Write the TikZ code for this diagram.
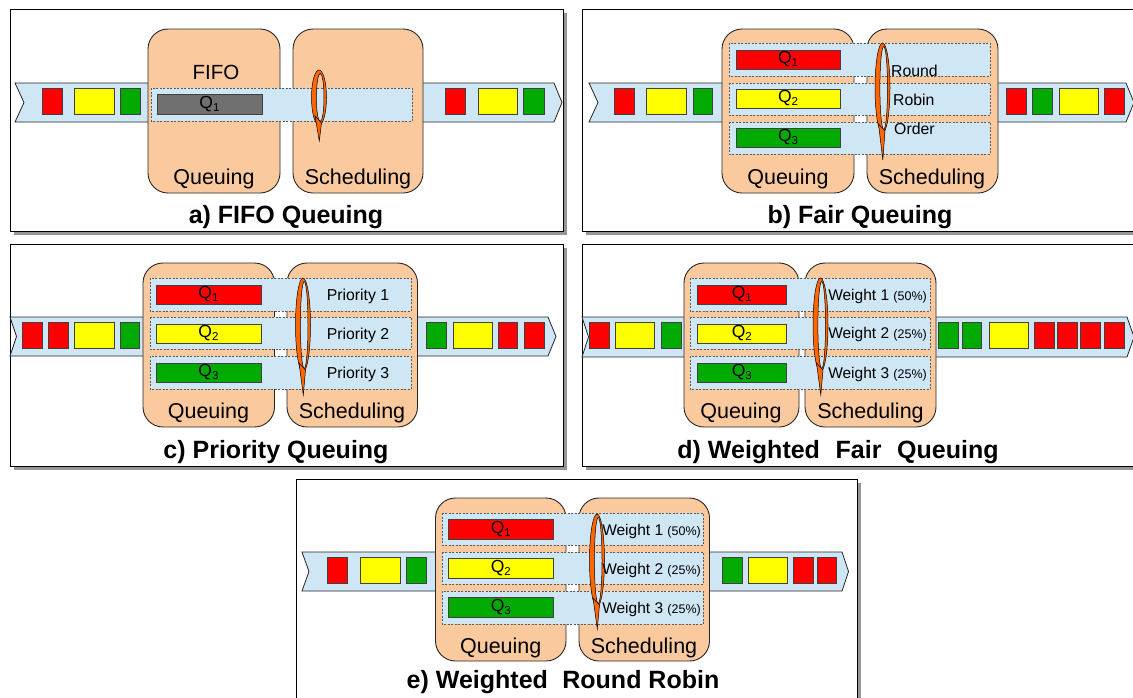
\documentclass[tikz,border=0pt]{standalone}
\usepackage{fontspec}
\setmainfont{Liberation Sans}
\usetikzlibrary{calc}
\definecolor{peach}{RGB}{250,202,158}
\definecolor{bandblue}{RGB}{207,230,244}
\definecolor{pred}{RGB}{255,0,0}
\definecolor{pyel}{RGB}{255,255,0}
\definecolor{pgrn}{RGB}{0,170,0}
\definecolor{qgray}{RGB}{112,112,112}
\definecolor{loopor}{RGB}{255,102,0}
\definecolor{shadowgray}{RGB}{150,150,150}
\newcommand{\qsub}[1]{Q\raisebox{-0.3ex}{\fontsize{11.5}{11.5}\selectfont #1}}
\newcommand{\rrloop}[4]{%
  \pgfmathsetmacro{\lcy}{(#2+#3)/2}%
  \pgfmathsetmacro{\lry}{(#3-#2)/2}%
  \pgfmathsetmacro{\lryi}{\lry-3.5}%
  \fill[loopor, draw=black, line width=0.5pt, even odd rule] (#1,\lcy) ellipse [x radius=7.5pt, y radius=\lry pt] ($(#1,\lcy)+(1.2,0)$) ellipse [x radius=3.8pt, y radius=\lryi pt];
  \fill[loopor, draw=black, line width=0.5pt] ($(#1,#3)+(-4,-9)$) -- ($(#1,#3)+(2.5,-2)$) -- ($(#1,#4)+(0.3,0)$) -- cycle;
}
\newcommand{\pkt}[5]{\draw[pkt, fill=#1] (#2,#4) rectangle (#3,#5);}
\tikzset{
  frame/.style={draw=black, line width=0.8pt, fill=white},
  band/.style={fill=bandblue, draw=black!85, line width=0.8pt},
  stagebox/.style={fill=peach, draw=black!85, line width=0.9pt, rounded corners=20pt},
  qrow/.style={fill=bandblue, draw=black!65, dash pattern=on 2pt off 1.5pt, line width=0.6pt},
  pkt/.style={draw=black!75, line width=0.8pt},
  qlbl/.style={inner sep=0pt, font=\fontsize{17.5}{20}\selectfont},
  stlbl/.style={inner sep=0pt, anchor=base, font=\fontsize{21.5}{24}\selectfont},
  ttl/.style={inner sep=0pt, anchor=base, font=\fontsize{25}{28}\selectfont\bfseries},
  rowlbl/.style={inner sep=0pt, font=\fontsize{15.8}{18}\selectfont},
  wlbl/.style={inner sep=0pt, anchor=base east, font=\fontsize{15.5}{18}\selectfont},
}
\newcommand{\wt}[2]{Weight #1 {\fontsize{12.5}{12.5}\selectfont (#2\%)}}
\begin{document}
\begin{tikzpicture}[x=1pt, y=-1pt]
\useasboundingbox (0,0) rectangle (1133,697);
\clip (0,0) rectangle (1133,697);
\fill[white] (0,0) rectangle (1133,697);

% ================= panel a =================
\fill[shadowgray] (13.5,12.5) rectangle (566.5,234.5);
\draw[frame] (10,9) rectangle (563,231);
\draw[band] (15,83) -- (150,83) -- (150,122) -- (15,122) -- (24,102.5) -- cycle;
\draw[band] (421,83) -- (554,83) -- (562,102.5) -- (554,122) -- (421,122) -- cycle;
\draw[stagebox] (148,29) rectangle (280,193);
\draw[stagebox] (293,29) rectangle (423,193);
\draw[qrow] (151,88) rectangle (412,121);
\draw[pkt, fill=qgray] (157,94) rectangle (262,114);
\node[qlbl] (a-q1) at (209.5,104) {\qsub{1}};
\rrloop{319}{70}{125}{141}
\pkt{pred}{42}{62}{88}{114}
\pkt{pyel}{74}{114}{88}{114}
\pkt{pgrn}{120}{140}{88}{114}
\pkt{pred}{445}{465}{88}{114}
\pkt{pyel}{478}{517}{88}{114}
\pkt{pgrn}{523}{544}{88}{114}
\node[stlbl, font=\fontsize{20.5}{24}\selectfont] (a-fifo) at (216,79) {FIFO};
\node[stlbl] (a-queuing) at (214,184) {Queuing};
\node[stlbl] (a-sched) at (358,184) {Scheduling};
\node[ttl] (a-title) at (286,223) {a) FIFO Queuing};

% ================= panel b =================
\fill[shadowgray] (585.5,12.5) rectangle (1140,234.5);
\draw[frame] (582,9) rectangle (1140,231);
\draw[band] (589,83) -- (724,83) -- (724,122) -- (589,122) -- (598,102.5) -- cycle;
\draw[band] (996,83) -- (1126,83) -- (1134,102.5) -- (1126,122) -- (996,122) -- cycle;
\draw[stagebox] (722,29) rectangle (854,193);
\draw[stagebox] (867,29) rectangle (998,193);
\draw[qrow] (729,43) rectangle (990,76);
\draw[qrow] (729,83) rectangle (990,115);
\draw[qrow] (729,122) rectangle (990,154);
\draw[pkt, fill=pred] (736,50) rectangle (840,69);
\draw[pkt, fill=pyel] (736,89) rectangle (840,108);
\draw[pkt, fill=pgrn] (736,128) rectangle (840,147);
\node[qlbl] (b-q1) at (788,59.5) {\qsub{1}};
\node[qlbl] (b-q2) at (788,98.5) {\qsub{2}};
\node[qlbl] (b-q3) at (788,137.5) {\qsub{3}};
\rrloop{882.5}{43}{133}{160}
\node[rowlbl, anchor=base west] (b-round) at (891,76.5) {Round};
\node[rowlbl, anchor=base west] (b-robin) at (893,105.5) {Robin};
\node[rowlbl, anchor=base west] (b-order) at (894,134) {Order};
\pkt{pred}{614}{634}{88}{114}
\pkt{pyel}{646}{686}{88}{114}
\pkt{pgrn}{693}{712}{88}{114}
\pkt{pred}{1006}{1026}{88}{114}
\pkt{pgrn}{1032}{1052}{88}{114}
\pkt{pyel}{1059}{1098}{88}{114}
\pkt{pred}{1104}{1124}{88}{114}
\node[stlbl] (b-queuing) at (788,184) {Queuing};
\node[stlbl] (b-sched) at (932,184) {Scheduling};
\node[ttl] (b-title) at (860,223) {b) Fair Queuing};

% ================= panel c =================
\fill[shadowgray] (13.5,247.5) rectangle (566.5,469.5);
\draw[frame] (10,244) rectangle (563,466);
\draw[band] (10,317) -- (145,317) -- (145,356) -- (10,356) -- (16.5,336.5) -- cycle;
\draw[band] (415,317) -- (548,317) -- (556,336.5) -- (548,356) -- (415,356) -- cycle;
\draw[stagebox] (143,263) rectangle (274.5,427);
\draw[stagebox] (287,263) rectangle (417.5,427);
\draw[qrow] (150,278) rectangle (411,311);
\draw[qrow] (150,317) rectangle (411,349);
\draw[qrow] (150,356) rectangle (411,389);
\draw[pkt, fill=pred] (156,285) rectangle (261,304);
\draw[pkt, fill=pyel] (156,324) rectangle (261,343);
\draw[pkt, fill=pgrn] (156,363) rectangle (261,382);
\node[qlbl] (c-q1) at (208.5,294.5) {\qsub{1}};
\node[qlbl] (c-q2) at (208.5,333.5) {\qsub{2}};
\node[qlbl] (c-q3) at (208.5,372.5) {\qsub{3}};
\rrloop{303}{278}{372}{395}
\node[rowlbl, anchor=base] (c-p1) at (358,300.5) {Priority 1};
\node[rowlbl, anchor=base] (c-p2) at (358,339.5) {Priority 2};
\node[rowlbl, anchor=base] (c-p3) at (358,378.5) {Priority 3};
\pkt{pred}{22.5}{42}{322}{348}
\pkt{pred}{48}{68}{322}{348}
\pkt{pyel}{74.5}{114}{322}{348}
\pkt{pgrn}{120}{139}{322}{348}
\pkt{pgrn}{426.5}{446}{322}{348}
\pkt{pyel}{453}{492}{322}{348}
\pkt{pred}{498}{517.5}{322}{348}
\pkt{pred}{524}{544}{322}{348}
\node[stlbl] (c-queuing) at (208.5,418) {Queuing};
\node[stlbl] (c-sched) at (352,418) {Scheduling};
\node[ttl] (c-title) at (276,458) {c) Priority Queuing};

% ================= panel d =================
\fill[shadowgray] (585.5,247.5) rectangle (1140,469.5);
\draw[frame] (582,244) rectangle (1140,466);
\draw[band] (582,317) -- (686,317) -- (686,357) -- (582,357) -- (588.5,337) -- cycle;
\draw[band] (934,317) -- (1127,317) -- (1134,337) -- (1127,357) -- (934,357) -- cycle;
\draw[stagebox] (684,263) rectangle (799,427);
\draw[stagebox] (805,263) rectangle (936,427);
\draw[qrow] (690,278) rectangle (930,311);
\draw[qrow] (690,317) rectangle (930,349);
\draw[qrow] (690,356) rectangle (930,389);
\draw[pkt, fill=pred] (697.5,285) rectangle (786,304);
\draw[pkt, fill=pyel] (697.5,324) rectangle (786,343);
\draw[pkt, fill=pgrn] (697.5,363) rectangle (786,382);
\node[qlbl] (d-q1) at (741.75,294.5) {\qsub{1}};
\node[qlbl] (d-q2) at (741.75,333.5) {\qsub{2}};
\node[qlbl] (d-q3) at (741.75,372.5) {\qsub{3}};
\rrloop{820.5}{278}{372}{395}
\node[wlbl] (d-w1) at (927,300) {\wt{1}{50}};
\node[wlbl] (d-w2) at (927,338.5) {\wt{2}{25}};
\node[wlbl] (d-w3) at (927,378) {\wt{3}{25}};
\pkt{pred}{589}{609}{322}{348}
\pkt{pyel}{615}{654}{322}{348}
\pkt{pgrn}{661}{681}{322}{348}
\pkt{pgrn}{938.5}{958}{322}{348}
\pkt{pgrn}{962.5}{981}{322}{348}
\pkt{pyel}{989}{1028}{322}{348}
\pkt{pred}{1034}{1054}{322}{348}
\pkt{pred}{1057}{1077}{322}{348}
\pkt{pred}{1080}{1100}{322}{348}
\pkt{pred}{1104}{1124}{322}{348}
\node[stlbl] (d-queuing) at (741,418) {Queuing};
\node[stlbl] (d-sched) at (870.5,418) {Scheduling};
\node[ttl] (d-title) at (838,458) {d) Weighted\hspace{0.35em} Fair\hspace{0.35em} Queuing};

% ================= panel e =================
\fill[shadowgray] (299.5,482.5) rectangle (860.5,705);
\draw[frame] (296,479) rectangle (857,705);
\draw[band] (302,552) -- (437.5,552) -- (437.5,591) -- (302,591) -- (309,571.5) -- cycle;
\draw[band] (707.5,552) -- (842,552) -- (848.5,571.5) -- (842,591) -- (707.5,591) -- cycle;
\draw[stagebox] (435.5,498) rectangle (566,661);
\draw[stagebox] (579,498) rectangle (709.5,661);
\draw[qrow] (442,513) rectangle (703,545);
\draw[qrow] (442,552) rectangle (703,584);
\draw[qrow] (442,591) rectangle (703,624);
\draw[pkt, fill=pred] (448.5,519) rectangle (553,539);
\draw[pkt, fill=pyel] (448.5,558) rectangle (553,578);
\draw[pkt, fill=pgrn] (448.5,597) rectangle (553,617);
\node[qlbl] (e-q1) at (500.75,529) {\qsub{1}};
\node[qlbl] (e-q2) at (500.75,568) {\qsub{2}};
\node[qlbl] (e-q3) at (500.75,607) {\qsub{3}};
\rrloop{597}{514}{607}{629}
\node[wlbl] (e-w1) at (701,535.5) {\wt{1}{50}};
\node[wlbl] (e-w2) at (701,574) {\wt{2}{25}};
\node[wlbl] (e-w3) at (701,613) {\wt{3}{25}};
\pkt{pred}{327}{347}{557}{583}
\pkt{pyel}{360}{400}{557}{583}
\pkt{pgrn}{406}{426}{557}{583}
\pkt{pgrn}{722}{742}{557}{583}
\pkt{pyel}{748}{787}{557}{583}
\pkt{pred}{793}{813}{557}{583}
\pkt{pred}{817}{836}{557}{583}
\node[stlbl] (e-queuing) at (500.75,653.5) {Queuing};
\node[stlbl] (e-sched) at (644,653.5) {Scheduling};
\node[ttl] (e-title) at (563,688) {e) Weighted\hspace{0.3em} Round Robin};
\end{tikzpicture}
\end{document}
